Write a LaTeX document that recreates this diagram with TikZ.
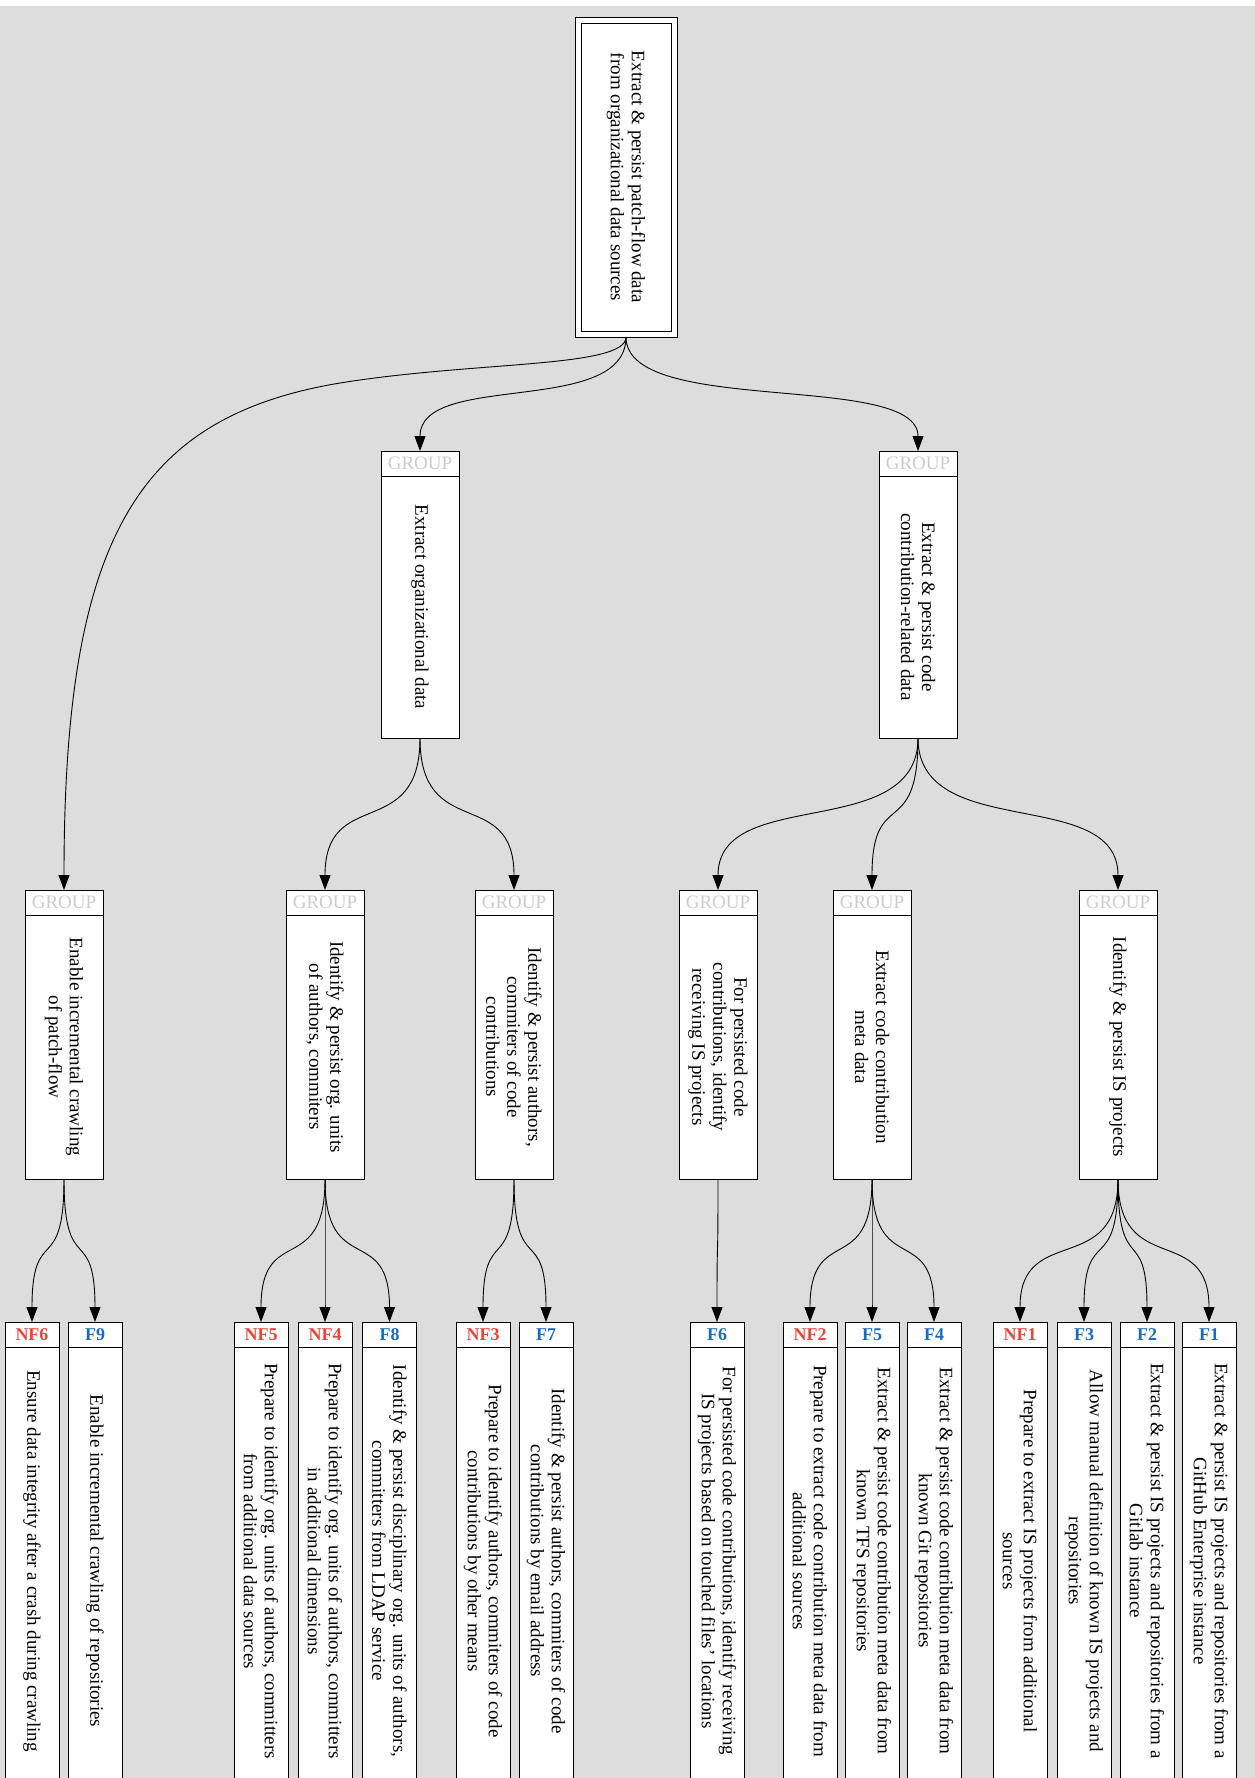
\documentclass[tikz,border=0pt]{standalone}
\usepackage{fontspec}
\setmainfont{Liberation Serif}
\usetikzlibrary{arrows.meta}
\definecolor{canvas}{HTML}{DDDDDD}
\definecolor{nfred}{HTML}{E8453C}
\definecolor{fblue}{HTML}{1A6BBF}
\definecolor{grptxt}{HTML}{CCCCCC}

% group box: header "GROUP" over a tall body with rotated text
\newcommand{\grp}[5]{% name, x centre, top, body height, text
  \node[hdr, minimum width=78, text=grptxt] (#1h) at (#2,#3) {GROUP};
  \node[box, anchor=north, minimum width=78, minimum height=#4] (#1) at (#1h.south) {};
  \node[bodytext] (#1t) at (#1.center) {#5};
}
% requirement leaf: coloured id over a body that runs off the page
\newcommand{\req}[5]{% name, x centre, colour, id, text
  \node[hdr, minimum width=54, text=#3, font=\fontsize{18}{20}\selectfont\bfseries] (#1h) at (#2,1322) {#4};
  \node[box, anchor=north, minimum width=54, minimum height=480] (#1) at (#1h.south) {};
  \node[bodytext] (#1t) at (#2,1561) {#5};
}

\begin{document}
\begin{tikzpicture}[x=1pt,y=-1pt,
  box/.style={draw=black, line width=0.9pt, fill=white, inner sep=0pt, outer sep=0pt},
  hdr/.style={box, anchor=north, minimum height=25, font=\fontsize{19}{21}\selectfont},
  bodytext/.style={rotate=-90, align=center, inner sep=0pt, font=\fontsize{19}{21}\selectfont},
  edge/.style={draw, line width=0.9pt, -{Triangle[length=15pt,width=11pt]}},
]
\clip (0,0) rectangle (1255,1778);
\fill[white] (0,0) rectangle (1255,6);
\fill[canvas] (0,6) rectangle (1255,1778);

% root
\node[box, anchor=north, minimum width=102, minimum height=320] (root) at (626,17) {};
\node[box, minimum width=90, minimum height=308] (rooti) at (root.center) {};
\node[bodytext] (roott) at (root.center) {Extract \& persist patch-flow data\\from organizational data sources};

% second level
\grp{org}{420}{451}{262}{Extract organizational data}
\grp{code}{918}{451}{262}{Extract \& persist code\\contribution-related data}

% third level
\grp{inc}{64}{890}{264}{Enable incremental crawling\\of patch-flow}
\grp{units}{325}{890}{264}{Identify \& persist org. units\\of authors, commiters}
\grp{auth}{514}{890}{264}{Identify \& persist authors,\\commiters of code\\contributions}
\grp{recv}{718}{890}{264}{For persisted code\\contributions, identify\\receiving IS projects}
\grp{meta}{872}{890}{264}{Extract code contribution\\meta data}
\grp{proj}{1118}{890}{264}{Identify \& persist IS projects}

% leaves
\req{nfsix}{32}{nfred}{NF6}{Ensure data integrity after a crash during crawling}
\req{fnine}{95}{fblue}{F9}{Enable incremental crawling of repositories}
\req{nffive}{261}{nfred}{NF5}{Prepare to identify org. units of authors, committers\\from additional data sources}
\req{nffour}{325}{nfred}{NF4}{Prepare to identify org. units of authors, committers\\in additional dimensions}
\req{feight}{389.5}{fblue}{F8}{Identify \& persist disciplinary org. units of authors,\\committers from LDAP service}
\req{nfthree}{483}{nfred}{NF3}{Prepare to identify authors, commiters of code\\contributions by other means}
\req{fseven}{546}{fblue}{F7}{Identify \& persist authors, commiters of code\\contributions by email address}
\req{fsix}{717}{fblue}{F6}{For persisted code contributions, identify receiving\\IS projects based on touched files’ locations}
\req{nftwo}{810}{nfred}{NF2}{Prepare to extract code contribution meta data from\\additional sources}
\req{ffive}{872}{fblue}{F5}{Extract \& persist code contribution meta data from\\known TFS repositories}
\req{ffour}{934}{fblue}{F4}{Extract \& persist code contribution meta data from\\known Git repositories}
\req{nfone}{1020}{nfred}{NF1}{Prepare to extract IS projects from additional\\sources}
\req{fthree}{1084}{fblue}{F3}{Allow manual definition of known IS projects and\\repositories}
\req{ftwo}{1147}{fblue}{F2}{Extract \& persist IS projects and repositories from a\\Gitlab instance}
\req{fone}{1209}{fblue}{F1}{Extract \& persist IS projects and repositories from a\\GitHub Enterprise instance}

% connectors from the root
\draw[edge] (root.south) .. controls (626,368) and (476,361) .. (340,383)
  .. controls (136,417) and (64,540) .. (inch.north);
\draw[edge] (root.south) .. controls +(0,80) and +(0,-80) .. (orgh.north);
\draw[edge] (root.south) .. controls +(0,80) and +(0,-80) .. (codeh.north);

% second to third level
\draw[edge] (org.south) .. controls +(0,105) and +(0,-105) .. (unitsh.north);
\draw[edge] (org.south) .. controls +(0,105) and +(0,-105) .. (authh.north);
\draw[edge] (code.south) .. controls +(0,105) and +(0,-105) .. (recvh.north);
\draw[edge] (code.south) .. controls +(0,105) and +(0,-105) .. (metah.north);
\draw[edge] (code.south) .. controls +(0,105) and +(0,-105) .. (projh.north);

% third level to leaves
\foreach \p/\c in {inc/nfsix, inc/fnine, units/nffive, units/nffour, units/feight,
                   auth/nfthree, auth/fseven, recv/fsix, meta/nftwo, meta/ffive, meta/ffour,
                   proj/nfone, proj/fthree, proj/ftwo, proj/fone}
  \draw[edge] (\p.south) .. controls +(0,100) and +(0,-100) .. (\c h.north);
\end{tikzpicture}
\end{document}
